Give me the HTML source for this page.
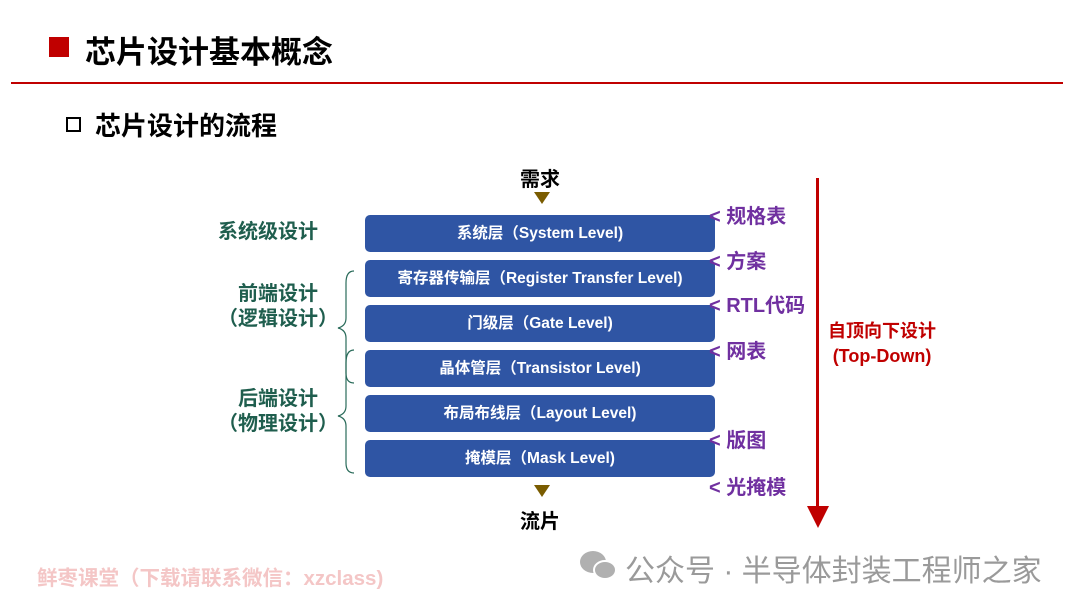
<!DOCTYPE html>
<html><head><meta charset="utf-8"><style>
body{margin:0;width:1080px;height:608px;background:#fff;position:relative;overflow:hidden;font-family:"Liberation Sans","Noto Sans CJK SC",sans-serif;font-weight:bold}
.a{position:absolute;white-space:nowrap}
.box{position:absolute;left:365px;width:350px;height:37px;background:#2f55a4;border-radius:5px;color:#fff;font-size:15.5px;text-align:center;line-height:37px}
.g{color:#1f5e4e;font-size:20px;text-align:center;line-height:25px}
.p{color:#7030a0;font-size:20px}
</style></head><body>
<div class="a" style="left:49px;top:37px;width:20px;height:20px;background:#c00000"></div>
<div class="a" style="left:85px;top:27px;font-size:31px;color:#000">芯片设计基本概念</div>
<div class="a" style="left:11px;top:82px;width:1052px;height:2px;background:#c00000"></div>
<div class="a" style="left:66px;top:117px;width:11px;height:11px;border:2px solid #000"></div>
<div class="a" style="left:95px;top:106px;font-size:26px;color:#000">芯片设计的流程</div>
<div class="a" style="left:520px;top:163px;font-size:20px;color:#000">需求</div>
<div class="a" style="left:534px;top:192px;width:0;height:0;border-left:8px solid transparent;border-right:8px solid transparent;border-top:12px solid #7a5c00"></div>
<div class="a" style="left:534px;top:485px;width:0;height:0;border-left:8px solid transparent;border-right:8px solid transparent;border-top:12px solid #7a5c00"></div>
<div class="a" style="left:520px;top:505px;font-size:20px;color:#000">流片</div>
<div class="box" style="top:215px">系统层（System Level)</div>
<div class="box" style="top:260px">寄存器传输层（Register Transfer Level)</div>
<div class="box" style="top:305px">门级层（Gate Level)</div>
<div class="box" style="top:350px">晶体管层（Transistor Level)</div>
<div class="box" style="top:395px">布局布线层（Layout Level)</div>
<div class="box" style="top:440px">掩模层（Mask Level)</div>
<div class="a g" style="left:218px;top:220px">系统级设计</div>
<div class="a g" style="left:218px;top:282px">前端设计<br>（逻辑设计）</div>
<div class="a g" style="left:218px;top:387px">后端设计<br>（物理设计）</div>
<svg class="a" style="left:330px;top:268px" width="30" height="210"><g fill="none" stroke="#2a6b5a" stroke-width="1.2">
<path d="M24 3 Q16 3 16 15 L16 50 Q16 58 8 60 Q16 62 16 70 L16 105 Q16 115 24 115"/>
<path d="M24 82 Q16 82 16 95 L16 138 Q16 146 8 148 Q16 150 16 158 L16 195 Q16 205 24 205"/></g></svg>
<div class="a p" style="left:709px;top:200px">&lt; 规格表</div>
<div class="a p" style="left:709px;top:245px">&lt; 方案</div>
<div class="a p" style="left:709px;top:289px">&lt; RTL代码</div>
<div class="a p" style="left:709px;top:335px">&lt; 网表</div>
<div class="a p" style="left:709px;top:424px">&lt; 版图</div>
<div class="a p" style="left:709px;top:471px">&lt; 光掩模</div>
<div class="a" style="left:816px;top:178px;width:3px;height:330px;background:#c00000"></div>
<div class="a" style="left:807px;top:506px;width:0;height:0;border-left:11px solid transparent;border-right:11px solid transparent;border-top:22px solid #c00000"></div>
<div class="a" style="left:828px;top:319px;font-size:18px;color:#c00000;line-height:25px;text-align:center">自顶向下设计<br>(Top-Down)</div>
<div class="a" style="left:37px;top:561px;font-size:20.5px;color:#f4c6c6">鲜枣课堂（下载请联系微信：xzclass)</div>
<svg class="a" style="left:578px;top:548px" width="42" height="36"><ellipse cx="15" cy="14" rx="13" ry="11" fill="#b0b0b0"/><ellipse cx="27" cy="22" rx="11" ry="9" fill="#b0b0b0" stroke="#fff" stroke-width="2"/></svg>
<div class="a" style="left:625px;top:546px;font-size:30px;color:#9a9a9a;font-weight:normal">公众号 · 半导体封装工程师之家</div>
</body></html>
